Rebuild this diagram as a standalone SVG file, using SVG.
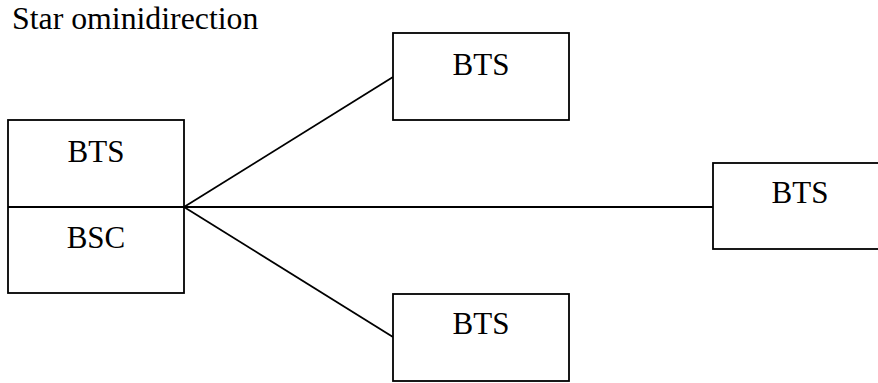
<svg xmlns="http://www.w3.org/2000/svg" width="878" height="383" viewBox="0 0 878 383">
<style>
.box{fill:#fff;stroke:#000;stroke-width:1.8}
.ln{fill:none;stroke:#000;stroke-width:1.8}
text{font-family:"Liberation Serif","Times New Roman",serif;font-size:31px;fill:#000}
.c{text-anchor:middle}
</style>
<rect width="878" height="383" fill="#fff"/>
<text x="12" y="29" style="font-size:31.8px">Star ominidirection</text>
<g id="connectors">
<line class="ln" x1="184" y1="207" x2="393" y2="77"/>
<line class="ln" x1="184" y1="207" x2="713" y2="207"/>
<line class="ln" x1="184" y1="207" x2="393" y2="337"/>
</g>
<g id="bts-bsc">
<rect class="box" x="8" y="120" width="176" height="173"/>
<line class="ln" x1="8" y1="207" x2="184" y2="207"/>
<text class="c" x="96" y="162">BTS</text>
<text class="c" x="96" y="248">BSC</text>
</g>
<g id="bts-top">
<rect class="box" x="393" y="33" width="176" height="87"/>
<text class="c" x="481" y="75">BTS</text>
</g>
<g id="bts-right">
<rect class="box" x="713" y="163" width="176" height="86"/>
<text class="c" x="800" y="203">BTS</text>
</g>
<g id="bts-bottom">
<rect class="box" x="393" y="294" width="176" height="87"/>
<text class="c" x="481" y="334">BTS</text>
</g>
</svg>
